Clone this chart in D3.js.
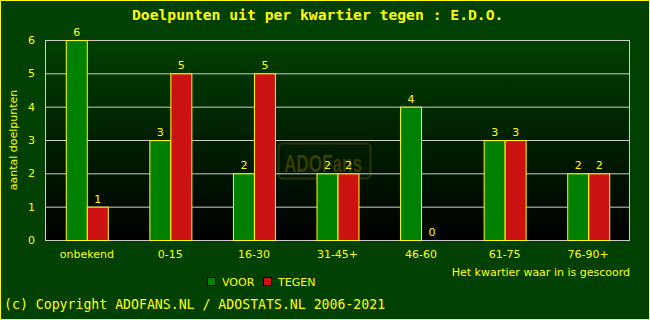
<!DOCTYPE html>
<html>
<head>
<meta charset="utf-8">
<script src="https://cdn.jsdelivr.net/npm/d3@7"></script>
<style>
  body { margin: 0; background: #004000; }
  svg text { font-family: "DejaVu Sans", sans-serif; }
</style>
</head>
<body>
<div id="chart"></div>
<script>
// data
var categories = ["onbekend", "0-15", "16-30", "31-45+", "46-60", "61-75", "76-90+"];
var voor = [6, 3, 2, 2, 4, 3, 2];
var tegen = [1, 5, 5, 2, 0, 3, 2];
var yTicks = [0, 1, 2, 3, 4, 5, 6];

var svgWidth = 650;
var svgHeight = 320;

var margin = { top: 40, bottom: 80, left: 45, right: 20 };
var width = svgWidth - margin.left - margin.right;    // 585
var height = svgHeight - margin.top - margin.bottom;  // 200

var svg = d3.select("#chart")
  .append("svg")
  .attr("width", svgWidth)
  .attr("height", svgHeight);

// outer frame
svg.append("rect")
  .attr("x", 0.5).attr("y", 0.5)
  .attr("width", svgWidth - 1).attr("height", svgHeight - 1)
  .attr("fill", "#004000")
  .attr("stroke", "#ffff00");

var defs = svg.append("defs");
var grad = defs.append("linearGradient")
  .attr("id", "bg").attr("x1", 0).attr("y1", 0).attr("x2", 0).attr("y2", 1);
grad.append("stop").attr("offset", "0%").attr("stop-color", "#004000");
grad.append("stop").attr("offset", "100%").attr("stop-color", "#000000");

svg.append("text")
  .attr("x", 132)
  .attr("y", 20)
  .attr("fill", "#ffff00")
  .style("font-family", "'DejaVu Sans Mono', monospace")
  .style("font-size", "14.7px")
  .style("font-weight", "bold")
  .text("Doelpunten uit per kwartier tegen : E.D.O.");

var chartGroup = svg.append("g")
  .attr("transform", `translate(${margin.left}, ${margin.top})`);

var xScale = d3.scaleBand()
  .domain(categories)
  .range([0, width]);

var yScale = d3.scaleLinear()
  .domain([0, 6])
  .range([height, 0]);

chartGroup.append("rect")
  .attr("width", width)
  .attr("height", height)
  .attr("fill", "url(#bg)");

// watermark (logo behind the bars)
var wm = chartGroup.append("g")
  .attr("transform", `translate(${278 - margin.left}, ${143 - margin.top})`);
wm.append("rect")
  .attr("x", 0.5).attr("y", 0.5)
  .attr("width", 92).attr("height", 35)
  .attr("rx", 4)
  .attr("fill", "none")
  .attr("stroke", "#2e3300")
  .attr("stroke-width", 2);
wm.append("text")
  .attr("x", 6)
  .attr("y", 29)
  .attr("textLength", 78)
  .attr("lengthAdjust", "spacingAndGlyphs")
  .attr("fill", "#3a3d00")
  .style("font-family", "'Liberation Sans Narrow', 'Liberation Sans', sans-serif")
  .style("font-size", "24px")
  .style("font-weight", "bold")
  .text("ADOFans");

// gridlines
chartGroup.selectAll(null)
  .data(yTicks)
  .enter()
  .append("line")
  .attr("x1", 0).attr("x2", width)
  .attr("y1", d => yScale(d) + 0.5)
  .attr("y2", d => yScale(d) + 0.5)
  .attr("stroke", "#cccccc");

chartGroup.append("rect")
  .attr("x", 0.5).attr("y", 0.5)
  .attr("width", width - 1).attr("height", height)
  .attr("fill", "none")
  .attr("stroke", "#cccccc");

var leftAxis = d3.axisLeft(yScale).tickValues(yTicks).tickSize(0).tickPadding(10).tickFormat(d3.format("d"));
var yAxisG = chartGroup.append("g").call(leftAxis);
yAxisG.select(".domain").remove();
yAxisG.selectAll("text").attr("fill", "#ffff00").style("font-size", "11px");

var bottomAxis = d3.axisBottom(xScale).tickSize(0).tickPadding(10);
var xAxisG = chartGroup.append("g")
  .attr("transform", `translate(0, ${height})`)
  .call(bottomAxis);
xAxisG.select(".domain").remove();
xAxisG.selectAll("text").attr("fill", "#ffff00").style("font-size", "11px");

var barW = 21;
var series = [
  { values: voor, color: "#008000", offset: -barW },
  { values: tegen, color: "#cc1111", offset: 0 }
];

series.forEach(function (s) {
  chartGroup.selectAll(null)
    .data(categories)
    .enter()
    .append("rect")
    .attr("x", (d) => xScale(d) + xScale.bandwidth() / 2 + s.offset + 0.5)
    .attr("y", (d, i) => yScale(s.values[i]) + 0.5)
    .attr("width", barW)
    .attr("height", (d, i) => height - yScale(s.values[i]))
    .attr("fill", s.color)
    .attr("stroke", "#ffff00")
    .attr("stroke-width", 1);

  chartGroup.selectAll(null)
    .data(categories)
    .enter()
    .append("text")
    .attr("x", (d) => xScale(d) + xScale.bandwidth() / 2 + s.offset + barW / 2 + 0.5)
    .attr("y", (d, i) => yScale(s.values[i]) - 4)
    .attr("text-anchor", "middle")
    .attr("fill", "#ffff00")
    .style("font-size", "11px")
    .text((d, i) => s.values[i]);
});

// axis titles
svg.append("text")
  .attr("transform", "rotate(-90)")
  .attr("x", -(margin.top + height / 2))
  .attr("y", 17)
  .attr("text-anchor", "middle")
  .attr("fill", "#ffff00")
  .style("font-size", "11px")
  .text("aantal doelpunten");

svg.append("text")
  .attr("x", 630)
  .attr("y", 276)
  .attr("text-anchor", "end")
  .attr("fill", "#ffff00")
  .style("font-size", "11px")
  .text("Het kwartier waar in is gescoord");

// legend
var legend = [
  { name: "VOOR", color: "#008000", x: 207 },
  { name: "TEGEN", color: "#cc1111", x: 263 }
];
legend.forEach(function (l) {
  svg.append("rect")
    .attr("x", l.x + 0.5).attr("y", 277.5)
    .attr("width", 8).attr("height", 8)
    .attr("fill", l.color)
    .attr("stroke", "#000000");
  svg.append("text")
    .attr("x", l.x + 15)
    .attr("y", 286)
    .attr("fill", "#ffff00")
    .style("font-size", "11px")
    .text(l.name);
});

svg.append("text")
  .attr("x", 4)
  .attr("y", 309)
  .attr("fill", "#ffff00")
  .style("font-family", "'DejaVu Sans Mono', monospace")
  .style("font-size", "13.2px")
  .text("(c) Copyright ADOFANS.NL / ADOSTATS.NL 2006-2021");
</script>
</body>
</html>
